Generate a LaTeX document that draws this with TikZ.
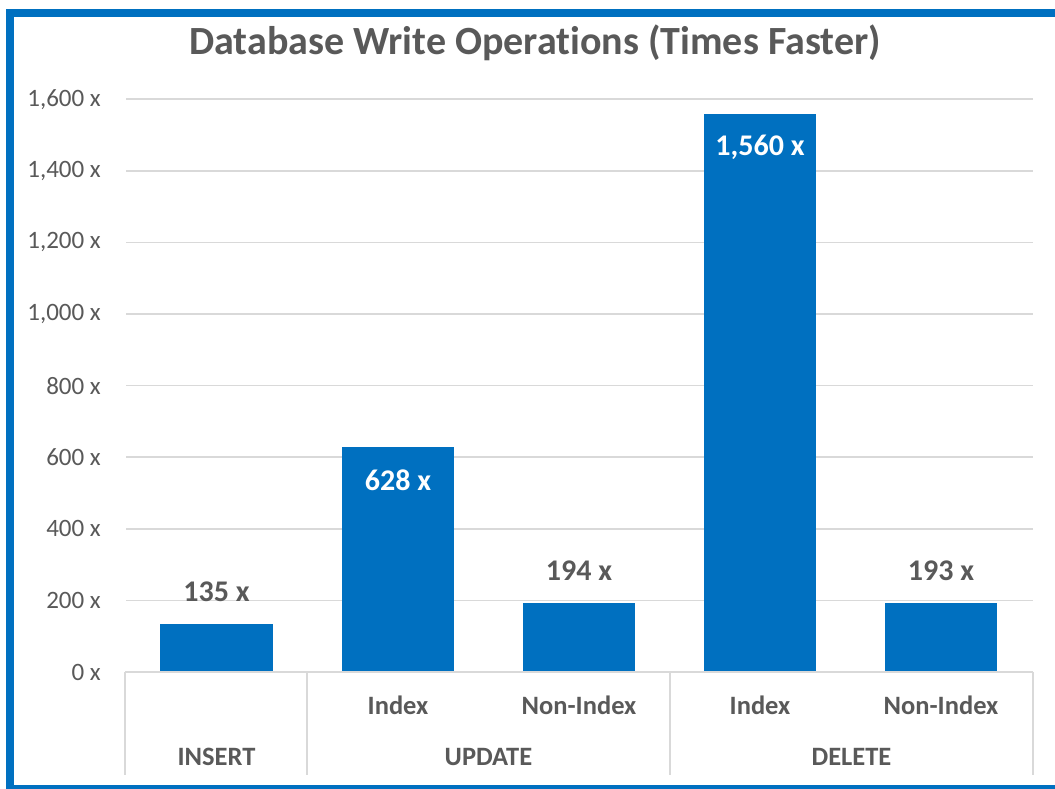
\documentclass[tikz,border=0pt]{standalone}
\usepackage{fontspec}
\setmainfont[Ligatures=CommonOff]{Carlito}
\definecolor{barblue}{HTML}{0070C0}
\definecolor{txtgray}{HTML}{595959}
\definecolor{gridgray}{HTML}{D9D9D9}
\begin{document}
\begin{tikzpicture}[x=1pt,y=-1pt,
  frame/.style={fill=barblue,draw=none},
  grid/.style={draw=gridgray,line width=1.5pt},
  bar/.style={fill=barblue,draw=none},
  ticklab/.style={anchor=east,text=txtgray,font=\fontsize{25}{28}\selectfont,inner sep=0pt},
  vallab/.style={text=#1,font=\bfseries\fontsize{30}{34}\selectfont,inner sep=0pt},
  catlab/.style={text=txtgray,font=\bfseries\fontsize{26.5}{30}\selectfont,inner sep=0pt},
  titlelab/.style={text=txtgray,font=\bfseries\fontsize{40}{46}\selectfont,inner sep=0pt}]
\useasboundingbox[fill=white] (0,0) rectangle (1055,789);
% frame
\fill[frame] (6,9) rectangle (1055,17);
\fill[frame] (6,9) rectangle (14,789);
\fill[frame] (6,785) rectangle (1055,789);
% title
\node[titlelab] (title) at (535,43) {Database Write Operations (Times Faster)};
% gridlines and tick labels
\foreach \v/\t in {1/200 x,2/400 x,3/600 x,4/800 x,5/{1,000 x},6/{1,200 x},7/{1,400 x},8/{1,600 x}}{
  \draw[grid] (126,{672-71.6*\v}) -- (1033,{672-71.6*\v});
  \node[ticklab] (t\v) at (101,{672-71.6*\v}) {\t};
}
\node[ticklab] (t0) at (101,672) {0 x};
% bars
\fill[bar] (160,{672-135*0.358}) rectangle (273,672);
\fill[bar] (342,{672-628*0.358}) rectangle (454,672);
\fill[bar] (523,{672-194*0.358}) rectangle (635,672);
\fill[bar] (704,{672-1560*0.358}) rectangle (816,672);
\fill[bar] (885,{672-193*0.358}) rectangle (997,672);
% axis
\draw[grid] (125,672) -- (1033,672);
\foreach \x in {125,307,670,1033}{\draw[grid] (\x,672) -- (\x,775);}
% value labels
\node[vallab=txtgray] (v1) at (216.5,592) {135 x};
\node[vallab=white] (v2) at (398,480) {628 x};
\node[vallab=txtgray] (v3) at (579,571) {194 x};
\node[vallab=white] (v4) at (760,147) {1,560 x};
\node[vallab=txtgray] (v5) at (941,571) {193 x};
% category labels
\node[catlab] (c2) at (398,705) {Index};
\node[catlab] (c3) at (579,705) {Non-Index};
\node[catlab] (c4) at (760,705) {Index};
\node[catlab] (c5) at (941,705) {Non-Index};
\node[catlab] (g1) at (216.5,757) {INSERT};
\node[catlab] (g2) at (488.5,757) {UPDATE};
\node[catlab] (g3) at (851.5,757) {DELETE};
\end{tikzpicture}
\end{document}
